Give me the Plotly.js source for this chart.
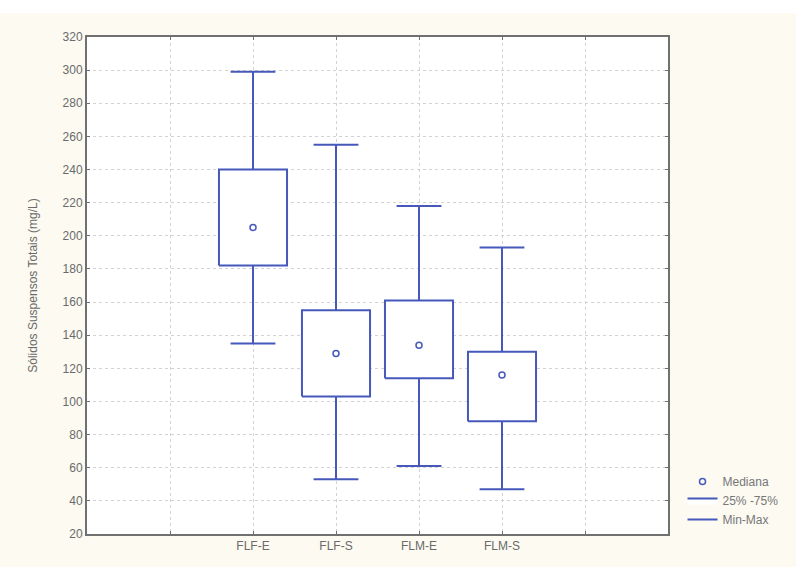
<!DOCTYPE html>
<html>
<head>
<meta charset="utf-8">
<script src="https://cdn.plot.ly/plotly-3.0.1.min.js"></script>
<style>html,body{margin:0;padding:0;background:#fcfaf1;}#chart{width:796px;height:567px;}</style>
</head>
<body>
<div id="chart"></div>
<script>
// Data
const categories = ['FLF-E', 'FLF-S', 'FLM-E', 'FLM-S'];
const positions  = [2, 3, 4, 5];
const minVals    = [135, 53, 61, 47];
const q1Vals     = [182, 103, 114, 88];
const medianVals = [205, 129, 134, 116];
const q3Vals     = [240, 155, 161, 130];
const maxVals    = [299, 255, 218, 193];

const tickPositions = [1, 2, 3, 4, 5, 6];
const tickLabels    = ['', 'FLF-E', 'FLF-S', 'FLM-E', 'FLM-S', ''];

const blue = '#4659bb';
const boxHalf = 0.41;
const capHalf = 0.27;

// Build whisker path and box polygons from the data arrays
const wx = [], wy = [];
const bx = [], by = [];
positions.forEach((p, i) => {
  wx.push(p, p, null, p - capHalf, p + capHalf, null);
  wy.push(minVals[i], q1Vals[i], null, minVals[i], minVals[i], null);
  wx.push(p, p, null, p - capHalf, p + capHalf, null);
  wy.push(q3Vals[i], maxVals[i], null, maxVals[i], maxVals[i], null);
  bx.push(p - boxHalf, p + boxHalf, p + boxHalf, p - boxHalf, p - boxHalf, null);
  by.push(q1Vals[i], q1Vals[i], q3Vals[i], q3Vals[i], q1Vals[i], null);
});

const traces = [
  {
    type: 'scatter', mode: 'lines', x: wx, y: wy, name: 'Min-Max',
    line: {color: blue, width: 2}, connectgaps: false, hoverinfo: 'skip',
    legendrank: 3
  },
  {
    type: 'scatter', mode: 'lines', x: bx, y: by, name: '25% -75%',
    fill: 'toself', fillcolor: '#ffffff', line: {color: blue, width: 2},
    connectgaps: false, hoverinfo: 'skip', legendrank: 2
  },
  {
    type: 'scatter', mode: 'markers', x: positions, y: medianVals, name: 'Mediana',
    marker: {symbol: 'circle-open', size: 6, color: blue, line: {width: 1.5, color: blue}},
    legendrank: 1
  }
];

const gray = '#6f6f6f';
const layout = {
  width: 796, height: 567,
  margin: {l: 87, r: 126, t: 37, b: 33, pad: 0},
  paper_bgcolor: '#fcfaf1',
  plot_bgcolor: '#ffffff',
  font: {family: 'Liberation Sans, Arial, sans-serif', color: gray, size: 12},
  showlegend: true,
  legend: {
    x: 1.025, xanchor: 'left', y: 0, yanchor: 'bottom',
    bgcolor: 'rgba(0,0,0,0)', font: {size: 12, color: '#777777'},
    tracegroupgap: 0, itemwidth: 30
  },
  xaxis: {
    range: [0, 7], tickmode: 'array', tickvals: tickPositions, ticktext: tickLabels,
    showgrid: true, gridcolor: '#d2d2d2', griddash: 'dot', gridwidth: 1,
    zeroline: false, showline: true, linecolor: '#707070', linewidth: 2, mirror: 'ticks',
    ticks: 'inside', ticklen: 3, tickcolor: '#707070',
    tickfont: {size: 12, color: '#6a6a6a'}
  },
  yaxis: {
    range: [20, 320], tickmode: 'linear', tick0: 20, dtick: 20,
    showgrid: true, gridcolor: '#d2d2d2', griddash: 'dot', gridwidth: 1,
    zeroline: false, showline: true, linecolor: '#707070', linewidth: 2, mirror: 'ticks',
    ticks: 'inside', ticklen: 3, tickcolor: '#707070',
    tickfont: {size: 12, color: '#6a6a6a'},
    title: {text: 'Sólidos Suspensos Totais (mg/L)', font: {size: 12, color: '#6a6a6a'}, standoff: 22}
  },
  shapes: [
    {type: 'rect', xref: 'paper', yref: 'paper', x0: -0.2, x1: 1.3, y0: 1.048, y1: 1.08,
     fillcolor: '#ffffff', line: {width: 0}, layer: 'below'}
  ]
};

Plotly.newPlot('chart', traces, layout, {displayModeBar: false, staticPlot: true});
</script>
</body>
</html>
